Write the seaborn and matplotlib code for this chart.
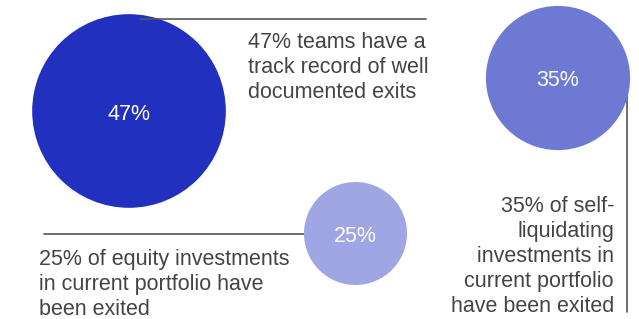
import matplotlib
matplotlib.use("Agg")
import numpy as np
import pandas as pd
import seaborn as sns
import matplotlib.pyplot as plt

# -----------------------------
# Data
# -----------------------------
values = [47, 35, 25]
labels = ["47%", "35%", "25%"]
descriptions = [
    "47% teams have a\ntrack record of well\ndocumented exits",
    "35% of self-\nliquidating\ninvestments in\ncurrent portfolio\nhave been exited",
    "25% of equity investments\nin current portfolio have\nbeen exited",
]
colors = ["#2130BE", "#6E79D4", "#A0A6E3"]

# layout (pixel coordinates, origin top-left)
centers_x = [129, 558, 355.5]
centers_y = [111, 78, 233.5]
PX_PER_UNIT = 2.06  # circle radius in px per percentage point

df = pd.DataFrame({"x": centers_x, "y": centers_y, "label": labels,
                   "value": values})
df["area"] = df["value"] ** 2

def marker_area(v):
    # scatter marker area in points^2 for a radius of PX_PER_UNIT * v pixels
    d_pt = 2 * PX_PER_UNIT * v * 72 / 100
    return d_pt ** 2

sns.set_style("white")
plt.rcParams["font.family"] = ["Liberation Sans", "DejaVu Sans"]

fig = plt.figure(figsize=(6.39, 3.19), dpi=100)
ax = fig.add_axes([0, 0, 1, 1])
ax.set_xlim(0, 639)
ax.set_ylim(319, 0)
ax.axis("off")

line_color = "#555555"
# connector lines drawn behind circles
ax.plot([44, 355], [234, 234], color=line_color, lw=1.2, zorder=1)
ax.plot([627, 627], [85, 312], color=line_color, lw=1.2, zorder=1)

sns.scatterplot(data=df, x="x", y="y", hue="label", palette=colors,
                size="area", sizes=(marker_area(min(values)), marker_area(max(values))),
                linewidth=0, legend=False, ax=ax, zorder=2)

# line across the top, above the big circle
ax.plot([140, 426], [19, 19], color=line_color, lw=1.2, zorder=3)

fs = 15.5
for cx, cy, lab in zip(centers_x, centers_y, labels):
    ax.text(cx, cy + 3, lab, color="white", fontsize=fs, ha="center", va="center", zorder=4)

text_color = "#444444"
ax.text(248, 32, descriptions[0], color=text_color, fontsize=fs, ha="left", va="top",
        linespacing=1.25)
ax.text(614, 196, descriptions[1], color=text_color, fontsize=fs, ha="right", va="top",
        linespacing=1.25)
ax.text(39, 249, descriptions[2], color=text_color, fontsize=fs, ha="left", va="top",
        linespacing=1.25)

fig.savefig("out.png", dpi=100)
